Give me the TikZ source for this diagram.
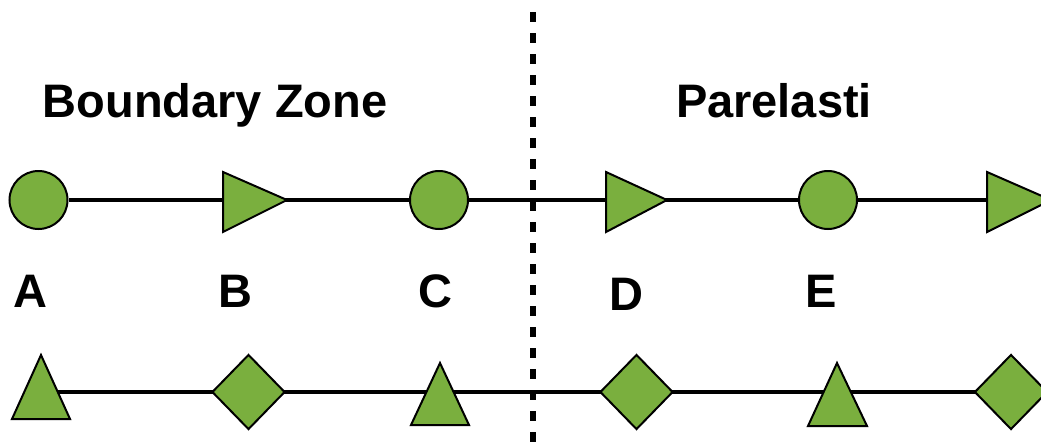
\documentclass[tikz,border=0pt]{standalone}
\usepackage{fontspec}
\setmainfont{Liberation Sans}
\usetikzlibrary{shapes.geometric,backgrounds}
\definecolor{leaf}{RGB}{122,175,62}
\tikzset{
  conn/.style={line width=4.2pt, black},
  divider/.style={line width=6pt, black, dash pattern=on 10pt off 11pt},
  shp/.style={draw=black, fill=leaf, line width=2pt},
  dot/.style={shp, circle, minimum size=58pt, inner sep=0pt},
  gem/.style={shp, diamond, minimum width=73pt, minimum height=75pt, inner sep=0pt},
  lbl/.style={font=\bfseries\fontsize{47}{50}\selectfont, anchor=base, inner sep=0pt}
}
\begin{document}
\begin{tikzpicture}[x=1pt,y=-1pt]
\useasboundingbox (0,0) rectangle (1041,447);
% coordinates
\coordinate (topEnd) at (1041,200);
\coordinate (botStart) at (57.8,392);
\coordinate (botEnd) at (1041,392);
\coordinate (divTop) at (532.5,12);
\coordinate (divBot) at (532.5,447);
% top row
\node[dot] (A) at (38.5,200) {};
\draw[shp] (223,172) -- (287,200) coordinate (B) -- (223,232) -- cycle;
\node[dot] (C) at (439,200) {};
\draw[shp] (606,172) -- (667,200) coordinate (D) -- (606,232) -- cycle;
\node[dot] (E) at (828,200) {};
\draw[shp] (987,172) -- (1051,200) coordinate (F) -- (987,232) -- cycle;
% bottom row
\draw[shp] (41,355) coordinate (A2) -- (70,419) -- (12,419) -- cycle;
\node[gem] (B2) at (248.5,392) {};
\draw[shp] (440,363) coordinate (C2) -- (469,425) -- (411,425) -- cycle;
\node[gem] (D2) at (636.5,392) {};
\draw[shp] (837,363) coordinate (E2) -- (867,426) -- (808,426) -- cycle;
\node[gem] (F2) at (1011,392) {};
% connectors behind shapes
\begin{scope}[on background layer]
\draw[conn] (A.east) -- (topEnd);
\draw[conn] (botStart) -- (botEnd);
\end{scope}
% divider
\draw[divider] (divTop) -- (divBot);
% texts
\node[lbl] (t1) at (215,117) {Boundary Zone};
\node[lbl] (t2) at (774,117) {Parelasti};
\node[lbl] (la) at (30.5,307) {A};
\node[lbl] (lb) at (235,307) {B};
\node[lbl] (lc) at (435.5,307) {C};
\node[lbl] (ld) at (626.5,310) {D};
\node[lbl] (le) at (821.5,307) {E};
\end{tikzpicture}
\end{document}
